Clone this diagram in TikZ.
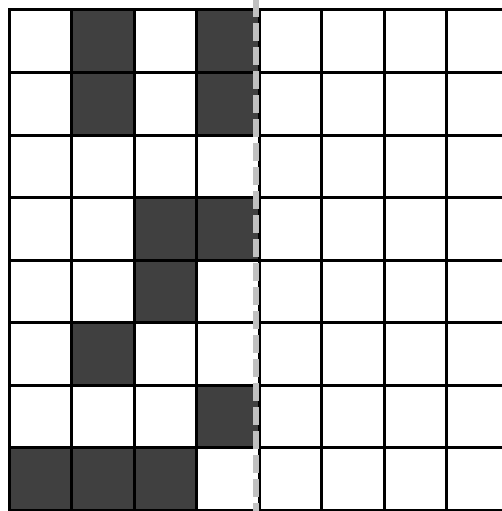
\documentclass[tikz,border=0pt]{standalone}
\usetikzlibrary{}
\definecolor{cellgray}{HTML}{404040}
\definecolor{dashgray}{HTML}{C0C0C0}
\tikzset{
  darkcell/.style={fill=cellgray},
  gridline/.style={draw=black, line width=3pt, line cap=rect},
  splitline/.style={draw=dashgray, line width=6pt, dash pattern=on 18pt off 6pt, dash phase=1pt}
}
\begin{document}
\begin{tikzpicture}[x=1pt,y=-1pt]
\useasboundingbox (0,0) rectangle (502,511);
\fill[white] (0,0) rectangle (502,511);
% dark cells: (col,row)
\foreach \c/\r in {1/0,3/0,1/1,3/1,2/3,3/3,2/4,1/5,3/6,0/7,1/7,2/7}{
  \path[darkcell] ({9+62.5*\c},{10+62.5*\r}) rectangle ({9+62.5*(\c+1)},{10+62.5*(\r+1)});
}
% grid
\foreach \i in {0,...,8}{
  \path[gridline] ({9+62.5*\i},10) -- ({9+62.5*\i},510);
  \path[gridline] (9,{10+62.5*\i}) -- (509,{10+62.5*\i});
}
% dashed split line
\coordinate (top) at (256.3,0);
\coordinate (bot) at (256.3,511);
\path[splitline] (top) -- (bot);
\end{tikzpicture}
\end{document}
